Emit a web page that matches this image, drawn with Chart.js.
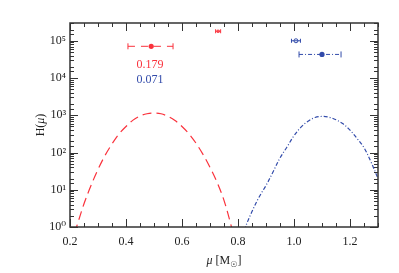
<!DOCTYPE html>
<html>
<head>
<meta charset="utf-8">
<script src="https://cdn.jsdelivr.net/npm/chart.js@4"></script>
<style>
  html, body { margin: 0; padding: 0; background: #fff; }
  #wrap { width: 399px; height: 273px; }
</style>
</head>
<body>
<div id="wrap"><canvas id="myChart"></canvas></div>
<script>
// red (dashed) curve
const redMu = [0.200, 0.225, 0.250, 0.275, 0.300, 0.325, 0.350, 0.375, 0.400, 0.425, 0.450, 0.475, 0.500,
  0.525, 0.550, 0.575, 0.600, 0.625, 0.650, 0.675, 0.700, 0.725, 0.750, 0.775, 0.800];
const redH = [0.3, 1.1, 4.2, 13, 35, 83, 170, 316, 500, 740, 955, 1100, 1150,
  1100, 930, 720, 500, 316, 178, 89, 40, 16, 5.2, 1.12, 0.2];

// blue (dash-dot) curve
const blueMu = [0.800, 0.825, 0.850, 0.875, 0.900, 0.925, 0.950, 0.975, 1.000, 1.025, 1.050,
  1.075, 1.100, 1.125, 1.150, 1.175, 1.200, 1.225, 1.250, 1.275, 1.300];
const blueH = [0.16, 0.9, 2.6, 6.3, 13, 30, 71, 141, 282, 480, 690,
  870, 930, 890, 760, 590, 400, 240, 135, 56, 20];

// estimates with error bars
const estMu = [0.49, 1.10];
const estH = [7.1e4, 4.3e4];
const estLo = [0.407, 1.018];
const estHi = [0.568, 1.168];

// small reference markers
const refMu = [0.729, 1.007];
const refH = [1.8e5, 1.0e5];
const refErr = [0.009, 0.016];

// overlap numbers
const overlapText = ['0.179', '0.071'];
const overlapMu = [0.486, 0.486];
const overlapH = [2.2e4, 8.9e3];

const xTicks = [0.2, 0.4, 0.6, 0.8, 1.0, 1.2];
const supDigits = ['\u2070', '\u00B9', '\u00B2', '\u00B3', '\u2074', '\u2075'];

const RED = 'rgb(250,50,60)';
const BLUE = 'rgb(50,75,170)';
const SERIF = '"Liberation Serif", "DejaVu Serif", serif';

const pts = (xs, ys) => xs.map((v, i) => ({ x: v, y: ys[i] }));
const colors = [RED, BLUE];
const dashes = [[7, 6], [4, 2, 1, 2]];

const datasets = [
  {
    data: pts(redMu, redH), borderColor: RED, borderWidth: 1.2,
    borderDash: [9, 5], pointRadius: 0, tension: 0.35
  },
  {
    data: pts(blueMu, blueH), borderColor: BLUE, borderWidth: 1.2,
    borderDash: [4, 2, 1, 2], pointRadius: 0, tension: 0.35
  }
];

// error bars of the estimates
estMu.forEach((m, i) => {
  datasets.push({
    data: [{ x: estLo[i], y: estH[i] }, { x: estHi[i], y: estH[i] }],
    borderColor: colors[i], borderWidth: 1, borderDash: dashes[i],
    pointStyle: 'line', pointRotation: 90, pointRadius: 3,
    pointBorderColor: colors[i], pointBorderWidth: 1
  });
});
datasets.push({
  data: pts(estMu, estH), showLine: false,
  pointStyle: 'circle', pointRadius: 2.6,
  pointBackgroundColor: colors, pointBorderColor: colors, pointBorderWidth: 0
});

// small reference markers
refMu.forEach((m, i) => {
  datasets.push({
    data: [{ x: m - refErr[i], y: refH[i] }, { x: m + refErr[i], y: refH[i] }],
    borderColor: colors[i], borderWidth: 1,
    pointStyle: 'line', pointRotation: 90, pointRadius: 2,
    pointBorderColor: colors[i], pointBorderWidth: 1
  });
});
datasets.push({
  data: pts(refMu, refH), showLine: false,
  pointStyle: ['rect', 'circle'], pointRadius: [1.5, 2],
  pointBackgroundColor: '#fff', pointBorderColor: colors, pointBorderWidth: 1
});

const isPow10 = (v) => {
  const e = Math.log10(v);
  return Math.abs(e - Math.round(e)) < 1e-9;
};
const isMajorX = (v) => xTicks.some(t => Math.abs(t - v) < 1e-6);

const frame = {
  id: 'frame',
  afterDatasetsDraw(chart) {
    const { ctx, chartArea: a, scales: { x, y } } = chart;
    ctx.save();
    ctx.strokeStyle = '#333';
    ctx.lineWidth = 1;
    const seg = (x1, y1, x2, y2) => {
      ctx.beginPath(); ctx.moveTo(x1, y1); ctx.lineTo(x2, y2); ctx.stroke();
    };
    x.ticks.forEach(t => {
      const px = Math.round(x.getPixelForValue(t.value)) + 0.5;
      const len = isMajorX(t.value) ? 8 : 4;
      seg(px, a.bottom, px, a.bottom - len);
      seg(px, a.top, px, a.top + len);
    });
    y.ticks.forEach(t => {
      if (t.value < y.min || t.value > y.max) return;
      const py = Math.round(y.getPixelForValue(t.value)) + 0.5;
      const len = isPow10(t.value) ? 8 : 4;
      seg(a.left, py, a.left + len, py);
      seg(a.right, py, a.right - len, py);
    });
    ctx.lineWidth = 1.5;
    ctx.strokeRect(a.left, a.top, a.right - a.left, a.bottom - a.top);

    // overlap numbers
    ctx.font = '12px ' + SERIF;
    ctx.textAlign = 'center';
    ctx.textBaseline = 'middle';
    overlapText.forEach((s, i) => {
      ctx.fillStyle = colors[i];
      ctx.fillText(s, x.getPixelForValue(overlapMu[i]), y.getPixelForValue(overlapH[i]));
    });

    // axis titles with mixed styles
    const drawParts = (parts, cx, cy) => {
      let w = 0;
      parts.forEach(p => { ctx.font = p.f; w += ctx.measureText(p.t).width; });
      let px = cx - w / 2;
      parts.forEach(p => {
        ctx.font = p.f;
        ctx.fillText(p.t, px, cy + (p.dy || 0));
        px += ctx.measureText(p.t).width;
      });
    };
    ctx.fillStyle = '#222';
    ctx.textAlign = 'left';
    ctx.textBaseline = 'alphabetic';
    drawParts([
      { t: '\u03BC', f: 'italic 12px ' + SERIF },
      { t: ' [M', f: '12px ' + SERIF },
      { t: '\u2609', f: '8px "DejaVu Sans", sans-serif', dy: 3 },
      { t: ']', f: '12px ' + SERIF }
    ], (a.left + a.right) / 2, 264);
    ctx.translate(44, (a.top + a.bottom) / 2);
    ctx.rotate(-Math.PI / 2);
    drawParts([
      { t: 'H(', f: '12px ' + SERIF },
      { t: '\u03BC', f: 'italic 12px ' + SERIF },
      { t: ')', f: '12px ' + SERIF }
    ], 0, 0);
    ctx.restore();
  }
};

const ctx = document.getElementById('myChart').getContext('2d');
const myChart = new Chart(ctx, {
  type: 'line',
  data: { datasets: datasets },
  options: {
    responsive: true,
    maintainAspectRatio: false,
    animation: false,
    layout: { padding: { top: 23, right: 21, left: 0, bottom: 0 } },
    scales: {
      x: {
        type: 'linear',
        min: 0.2,
        max: 1.3,
        grid: { display: false, drawTicks: false },
        border: { display: false },
        afterFit: (s) => { s.height = 46; },
        ticks: {
          stepSize: 0.05,
          autoSkip: false,
          maxRotation: 0,
          padding: 8,
          color: '#222',
          font: { family: SERIF, size: 12 },
          callback: (v) => (isMajorX(v) ? Number(v).toFixed(1) : '')
        }
      },
      y: {
        type: 'logarithmic',
        min: 1,
        max: 3e5,
        grid: { display: false, drawTicks: false },
        border: { display: false },
        afterFit: (s) => { s.width = 70; },
        ticks: {
          autoSkip: false,
          padding: 4,
          color: '#222',
          font: { family: SERIF, size: 12 },
          callback: (v) => (isPow10(v) ? '10' + supDigits[Math.round(Math.log10(v))] : '')
        }
      }
    },
    plugins: {
      legend: { display: false },
      tooltip: { enabled: false }
    }
  },
  plugins: [frame]
});
</script>
</body>
</html>
